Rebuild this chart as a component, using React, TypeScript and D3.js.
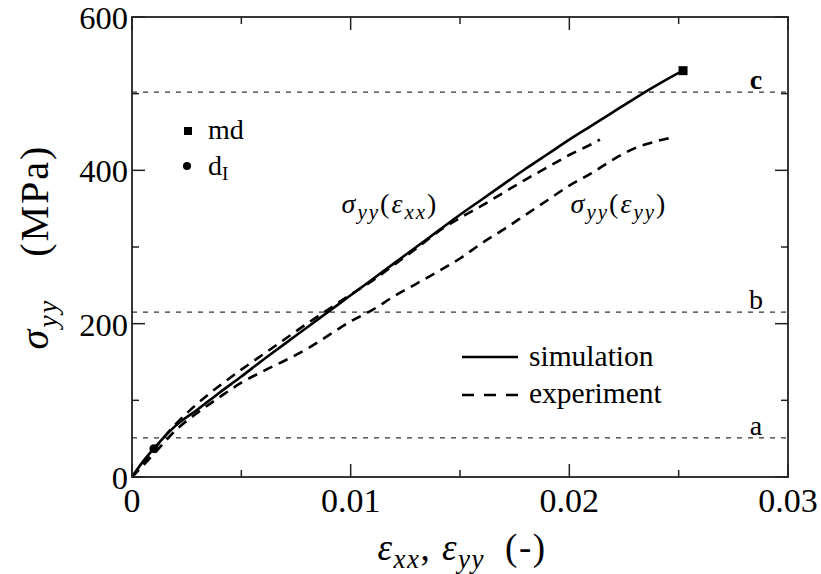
import React from 'react';
import * as d3 from 'd3';

// ---- data ----
const xTicks = [0, 0.01, 0.02, 0.03];
const xTickLabels = ['0', '0.01', '0.02', '0.03'];
const xMinorTicks = [0.005, 0.015, 0.025];
const yTicks = [0, 200, 400, 600];
const yTickLabels = ['0', '200', '400', '600'];
const yMinorTicks = [100, 300, 500];

const simStrain = [0, 0.0005, 0.001, 0.0015, 0.002, 0.003, 0.004, 0.005, 0.006, 0.007, 0.008, 0.009, 0.010, 0.011, 0.012, 0.013, 0.014, 0.015, 0.016, 0.017, 0.018, 0.019, 0.020, 0.021, 0.022, 0.023, 0.024, 0.025, 0.0252];
const simStress = [0, 20, 37, 53, 67, 88, 110, 131, 153, 174, 195, 216, 237, 258, 279, 300, 321, 342, 362, 382, 402, 421, 440, 458, 476, 494, 511, 527, 530];

const expXXStrain = [0, 0.0005, 0.001, 0.002, 0.003, 0.004, 0.005, 0.006, 0.007, 0.008, 0.009, 0.010, 0.011, 0.012, 0.013, 0.014, 0.015, 0.016, 0.017, 0.018, 0.019, 0.020, 0.021, 0.0214];
const expXXStress = [0, 18, 36, 69, 96, 119, 140, 160, 180, 200, 219, 238, 256, 277, 298, 320, 338, 354, 371, 388, 404, 420, 434, 440];

const expYYStrain = [0, 0.001, 0.002, 0.003, 0.004, 0.005, 0.006, 0.007, 0.008, 0.009, 0.010, 0.011, 0.012, 0.013, 0.014, 0.015, 0.016, 0.017, 0.018, 0.019, 0.020, 0.021, 0.022, 0.023, 0.024, 0.0247];
const expYYStress = [0, 30, 61, 84, 104, 123, 138, 152, 167, 185, 203, 218, 236, 252, 268, 285, 305, 323, 342, 361, 380, 396, 414, 429, 438, 443];

const refLevels = [51, 215, 502];
const refLabels = ['a', 'b', 'c'];

const mdPoint = [0.0252, 530];
const dIPoint = [0.001, 37];

const W = 821;
const H = 574;
const L = 132, R = 788, T = 17, B = 477;
const TS = { fontFamily: '"Liberation Serif"' };

export default function App() {
  const x = d3.scaleLinear().domain([0, 0.03]).range([L, R]);
  const y = d3.scaleLinear().domain([0, 600]).range([B, T]);
  const line = d3.line<[number, number]>().x(d => x(d[0])).y(d => y(d[1])).curve(d3.curveMonotoneX);
  const sim = line(simStrain.map((s, i) => [s, simStress[i]]) as [number, number][]) || '';
  const exx = line(expXXStrain.map((s, i) => [s, expXXStress[i]]) as [number, number][]) || '';
  const eyy = line(expYYStrain.map((s, i) => [s, expYYStress[i]]) as [number, number][]) || '';

  const major = 13, minor = 7;
  const axisStroke = '#222';

  return (
    <svg width={W} height={H} style={{ position: 'absolute', left: 0, top: 0, background: '#fff' }}>
      {/* reference levels */}
      {refLevels.map((v, i) => (
        <g key={'ref' + i}>
          <line x1={L} x2={R} y1={y(v)} y2={y(v)} stroke="#333" strokeWidth={1.2} strokeDasharray="5,6" />
          <text style={TS} x={R - 32} y={y(v) - 3} fontSize={28} textAnchor="middle" fontWeight={refLabels[i] === 'c' ? 'bold' : 'normal'} fill="#000">{refLabels[i]}</text>
        </g>
      ))}

      {/* curves */}
      <path d={exx} fill="none" stroke="#000" strokeWidth={2.6} strokeDasharray="10,7" />
      <path d={eyy} fill="none" stroke="#000" strokeWidth={2.6} strokeDasharray="10,7" />
      <path d={sim} fill="none" stroke="#000" strokeWidth={2.6} />

      {/* markers */}
      <rect x={x(mdPoint[0]) - 4.5} y={y(mdPoint[1]) - 4.5} width={9} height={9} fill="#000" />
      <circle cx={x(dIPoint[0])} cy={y(dIPoint[1])} r={4.5} fill="#000" />

      {/* frame */}
      <rect x={L} y={T} width={R - L} height={B - T} fill="none" stroke={axisStroke} strokeWidth={1.8} />

      {/* x ticks */}
      {xTicks.map((t, i) => (
        <g key={'xt' + i}>
          <line x1={x(t)} x2={x(t)} y1={B} y2={B - major} stroke={axisStroke} strokeWidth={1.5} />
          <line x1={x(t)} x2={x(t)} y1={T} y2={T + major} stroke={axisStroke} strokeWidth={1.5} />
          <text style={TS} x={x(t)} y={B + 35} fontSize={34} textAnchor="middle" fill="#000">{xTickLabels[i]}</text>
        </g>
      ))}
      {xMinorTicks.map((t, i) => (
        <g key={'xm' + i}>
          <line x1={x(t)} x2={x(t)} y1={B} y2={B - minor} stroke={axisStroke} strokeWidth={1.5} />
          <line x1={x(t)} x2={x(t)} y1={T} y2={T + minor} stroke={axisStroke} strokeWidth={1.5} />
        </g>
      ))}

      {/* y ticks */}
      {yTicks.map((t, i) => (
        <g key={'yt' + i}>
          <line x1={L} x2={L + major} y1={y(t)} y2={y(t)} stroke={axisStroke} strokeWidth={1.5} />
          <line x1={R} x2={R - major} y1={y(t)} y2={y(t)} stroke={axisStroke} strokeWidth={1.5} />
          <text style={TS} x={L - 4} y={y(t) + 12} fontSize={32.5} textAnchor="end" fill="#000">{yTickLabels[i]}</text>
        </g>
      ))}
      {yMinorTicks.map((t, i) => (
        <g key={'ym' + i}>
          <line x1={L} x2={L + minor} y1={y(t)} y2={y(t)} stroke={axisStroke} strokeWidth={1.5} />
          <line x1={R} x2={R - minor} y1={y(t)} y2={y(t)} stroke={axisStroke} strokeWidth={1.5} />
        </g>
      ))}

      {/* axis labels */}
      <text style={TS} x={462} y={560} fontSize={37} textAnchor="middle" fill="#000" letterSpacing={1.5}>
        <tspan fontStyle="italic">ε</tspan>
        <tspan fontStyle="italic" fontSize={27} dy={8}>xx</tspan>
        <tspan dy={-8}>, </tspan>
        <tspan fontStyle="italic">ε</tspan>
        <tspan fontStyle="italic" fontSize={27} dy={8}>yy</tspan>
        <tspan dy={-8}>{'\u2002(-)'}</tspan>
      </text>
      <text style={TS} transform={`translate(48,247) rotate(-90)`} fontSize={40} textAnchor="middle" fill="#000" letterSpacing={2}>
        <tspan fontStyle="italic">σ</tspan>
        <tspan fontStyle="italic" fontSize={28} dy={9}>yy</tspan>
        <tspan dy={-9}>{'\u2003(MPa)'}</tspan>
      </text>

      {/* curve annotations */}
      <text style={TS} x={390} y={213} fontSize={28} textAnchor="middle" fill="#000" letterSpacing={2}>
        <tspan fontStyle="italic">σ</tspan>
        <tspan fontStyle="italic" fontSize={21} dy={6}>yy</tspan>
        <tspan dy={-6}>(</tspan>
        <tspan fontStyle="italic">ε</tspan>
        <tspan fontStyle="italic" fontSize={21} dy={6}>xx</tspan>
        <tspan dy={-6}>)</tspan>
      </text>
      <text style={TS} x={619} y={213} fontSize={28} textAnchor="middle" fill="#000" letterSpacing={2}>
        <tspan fontStyle="italic">σ</tspan>
        <tspan fontStyle="italic" fontSize={21} dy={6}>yy</tspan>
        <tspan dy={-6}>(</tspan>
        <tspan fontStyle="italic">ε</tspan>
        <tspan fontStyle="italic" fontSize={21} dy={6}>yy</tspan>
        <tspan dy={-6}>)</tspan>
      </text>

      {/* marker legend */}
      <rect x={184} y={127} width={8} height={8} fill="#000" />
      <text style={TS} x={208} y={139} fontSize={28} fill="#000">md</text>
      <circle cx={187} cy={166} r={4} fill="#000" />
      <text style={TS} x={208} y={175} fontSize={28} fill="#000">
        d<tspan fontSize={19} dy={5}>I</tspan>
      </text>

      {/* line legend */}
      <line x1={462} x2={518} y1={357} y2={357} stroke="#000" strokeWidth={2.6} />
      <text style={TS} x={529} y={366} fontSize={29.5} fill="#000">simulation</text>
      <line x1={462} x2={518} y1={395} y2={395} stroke="#000" strokeWidth={2.6} strokeDasharray="12,10" />
      <text style={TS} x={529} y={403} fontSize={29.5} fill="#000">experiment</text>
    </svg>
  );
}
